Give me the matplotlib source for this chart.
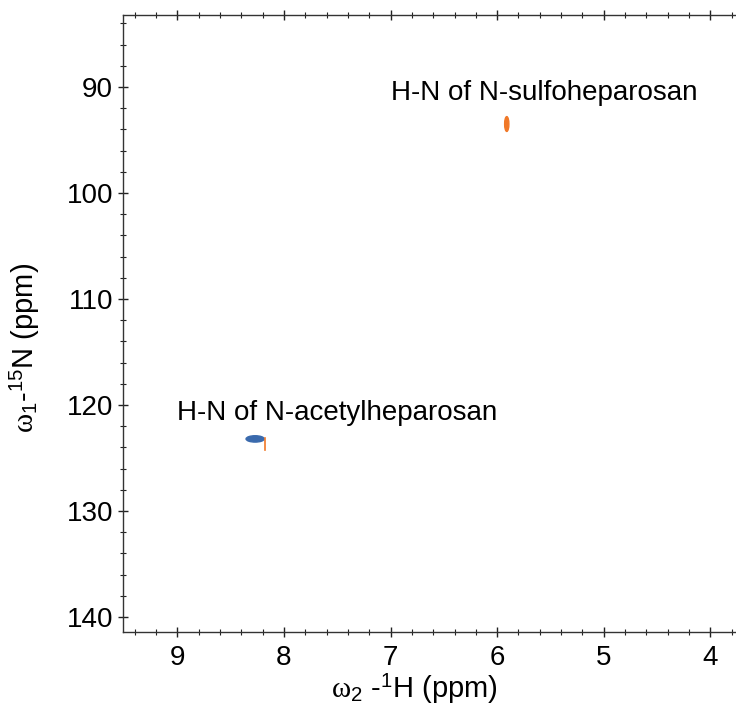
import numpy as np
import matplotlib.pyplot as plt
from matplotlib.patches import Ellipse
from matplotlib.ticker import MultipleLocator

plt.rcParams['font.family'] = ['Liberation Sans', 'DejaVu Sans']
plt.rcParams['mathtext.fontset'] = 'custom'
plt.rcParams['mathtext.rm'] = 'Liberation Sans'
plt.rcParams['mathtext.it'] = 'Liberation Serif'

# peaks: 1H shift, 15N shift, width (1H), height (15N), colour
peak_h = [5.91, 8.27]
peak_n = [93.5, 123.2]
peak_w = [0.04, 0.17]
peak_hgt = [1.4, 0.6]
peak_col = ['#f07828', '#3a6aad']

# small orange contour next to the blue peak
tail_h = [8.18, 8.18]
tail_n = [123.1, 124.2]

# labels
label_text = ['H-N of N-sulfoheparosan', 'H-N of N-acetylheparosan']
label_h = [7.0, 9.0]
label_n = [90.6, 120.75]

fig = plt.figure(figsize=(7.36, 7.06), dpi=100)
ax = fig.add_axes([0.167, 0.105, 0.833, 0.874])

for h, n, w, hg, c in zip(peak_h, peak_n, peak_w, peak_hgt, peak_col):
    ax.add_patch(Ellipse((h, n), w, hg, facecolor=c, edgecolor=c, lw=1))
ax.plot(tail_h, tail_n, color='#f07828', lw=1.2)

for t, h, n in zip(label_text, label_h, label_n):
    ax.text(h, n, t, fontsize=20, ha='left', va='center')

ax.set_xlim(9.51, 3.76)
ax.set_ylim(141.4, 83.2)

ax.xaxis.set_major_locator(MultipleLocator(1))
ax.xaxis.set_minor_locator(MultipleLocator(0.2))
ax.yaxis.set_major_locator(MultipleLocator(10))
ax.yaxis.set_minor_locator(MultipleLocator(2))

ax.spines['right'].set_visible(False)
for s in ['left', 'top', 'bottom']:
    ax.spines[s].set_color('#333333')
    ax.spines[s].set_linewidth(1)

ax.tick_params(which='major', direction='inout', length=7, width=1,
               labelsize=20, top=True, right=False, colors='#222222', labelcolor='black')
ax.tick_params(which='minor', direction='inout', length=5, width=0.8,
               top=True, right=False, colors='#222222')
ax.tick_params(axis='x', pad=6)

ax.set_xlabel(r'$\omega_{2}$ -$^{1}$H (ppm)', fontsize=21)
ax.set_ylabel(r'$\omega_{1}$-$^{15}$N (ppm)', fontsize=21)
ax.xaxis.set_label_coords(0.475, -0.066)
ax.yaxis.set_label_coords(-0.132, 0.46)

fig.savefig('out.png', dpi=100)
